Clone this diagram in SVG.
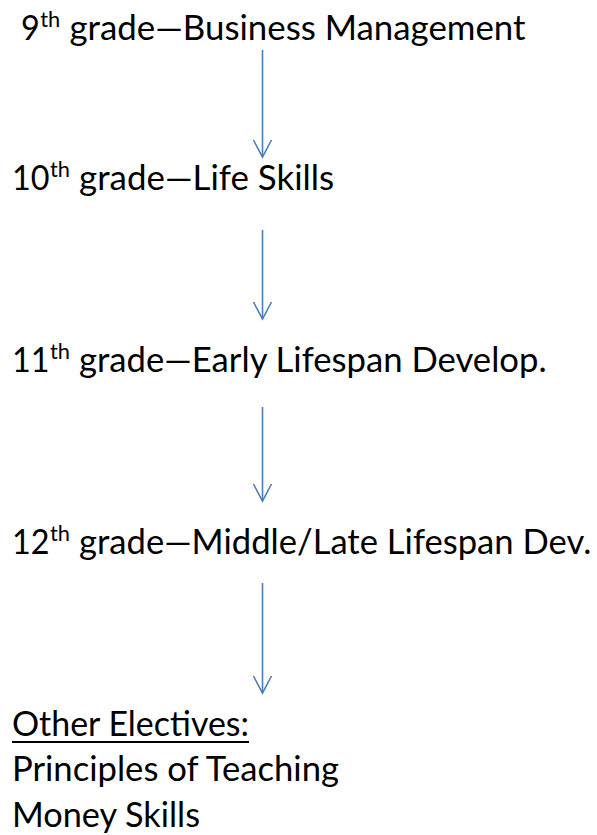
<svg xmlns="http://www.w3.org/2000/svg" width="597" height="835" viewBox="0 0 597 835">
<style>
.t{font-family:Lato,"Open Sans",sans-serif;font-size:34px;fill:#000}
.s{font-family:Lato,"Open Sans",sans-serif;font-size:22px;fill:#000}
.c{stroke:#4A7EBB;stroke-width:1.6;fill:none}
</style>
<defs>
<marker id="arrow" markerUnits="userSpaceOnUse" markerWidth="40" markerHeight="40" viewBox="-20 -20 40 40" refX="0" refY="0" orient="auto" overflow="visible">
<path d="M-17,-9 L0,0 L-17,9" fill="none" stroke="#4A7EBB" stroke-width="1.6"/>
</marker>
</defs>
<rect width="597" height="835" fill="#fff"/>
<g id="connectors">
<line class="c" x1="262.5" y1="50" x2="262.5" y2="157" marker-end="url(#arrow)"/>
<line class="c" x1="262.5" y1="230" x2="262.5" y2="319" marker-end="url(#arrow)"/>
<line class="c" x1="262.5" y1="407" x2="262.5" y2="501" marker-end="url(#arrow)"/>
<line class="c" x1="262.5" y1="583" x2="262.5" y2="693" marker-end="url(#arrow)"/>
</g>
<g id="grade9">
<text class="t" x="21" y="40" textLength="18.8" lengthAdjust="spacingAndGlyphs">9</text>
<text class="s" x="40.2" y="27" textLength="20" lengthAdjust="spacingAndGlyphs">th</text>
<text class="t" x="69.5" y="40" textLength="456" lengthAdjust="spacingAndGlyphs">grade—Business Management</text>
</g>
<g id="grade10">
<text class="t" x="12" y="190" textLength="37.5" lengthAdjust="spacingAndGlyphs">10</text>
<text class="s" x="50" y="177" textLength="20" lengthAdjust="spacingAndGlyphs">th</text>
<text class="t" x="79" y="190" textLength="255.2" lengthAdjust="spacingAndGlyphs">grade—Life Skills</text>
</g>
<g id="grade11">
<text class="t" x="12" y="372" textLength="37.5" lengthAdjust="spacingAndGlyphs">11</text>
<text class="s" x="50" y="359" textLength="20" lengthAdjust="spacingAndGlyphs">th</text>
<text class="t" x="79" y="372" textLength="467.6" lengthAdjust="spacingAndGlyphs">grade—Early Lifespan Develop.</text>
</g>
<g id="grade12">
<text class="t" x="12" y="554" textLength="37.5" lengthAdjust="spacingAndGlyphs">12</text>
<text class="s" x="50" y="541" textLength="20" lengthAdjust="spacingAndGlyphs">th</text>
<text class="t" x="79" y="554" textLength="512.3" lengthAdjust="spacingAndGlyphs">grade—Middle/Late Lifespan Dev.</text>
</g>
<g id="electives">
<text class="t" x="12" y="736" textLength="237" lengthAdjust="spacingAndGlyphs">Other Electives:</text>
<line x1="12" y1="742" x2="249" y2="742" stroke="#000" stroke-width="2"/>
<text class="t" x="12" y="781" textLength="327" lengthAdjust="spacingAndGlyphs">Principles of Teaching</text>
<text class="t" x="12" y="827" textLength="188" lengthAdjust="spacingAndGlyphs">Money Skills</text>
</g>
</svg>
